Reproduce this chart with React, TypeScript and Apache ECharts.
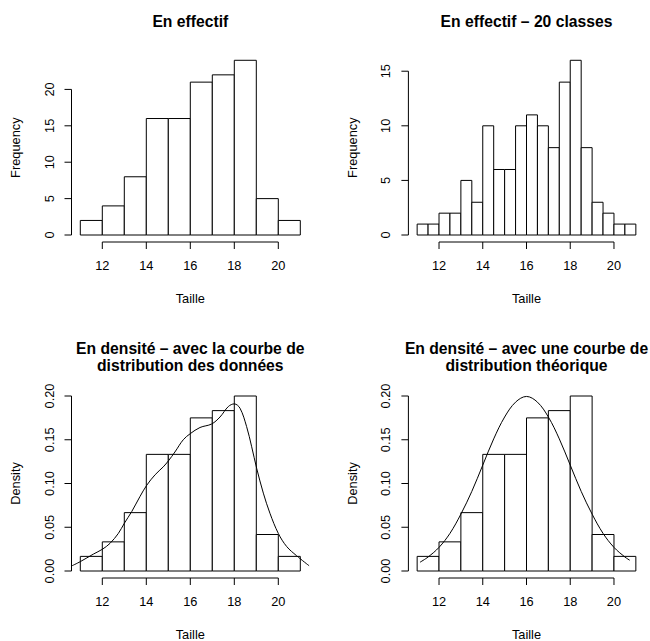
import React, { useEffect, useRef } from "react";
import * as echarts from "echarts";

// ---- Data ----
const edges10 = [11, 12, 13, 14, 15, 16, 17, 18, 19, 20, 21];
const counts10 = [2, 4, 8, 16, 16, 21, 22, 24, 5, 2];
const edges20 = [11, 11.5, 12, 12.5, 13, 13.5, 14, 14.5, 15, 15.5, 16, 16.5, 17, 17.5, 18, 18.5, 19, 19.5, 20, 20.5, 21];
const counts20 = [1, 1, 2, 2, 5, 3, 10, 6, 6, 10, 11, 10, 8, 14, 16, 8, 3, 2, 1, 1];
const density10 = [0.0167, 0.0333, 0.0667, 0.1333, 0.1333, 0.175, 0.1833, 0.2, 0.0417, 0.0167];

const kdeX = [10.6, 11.0, 11.6, 12.0, 12.35, 12.73, 13.0, 13.34, 13.71, 14.02, 14.4, 14.77, 15.0, 15.3, 15.68, 16.0, 16.44, 16.97, 17.35, 17.73, 18.0, 18.26, 18.56, 18.79, 19.02, 19.32, 19.62, 20.0, 20.38, 20.83, 21.4];
const kdeY = [0.0057, 0.0107, 0.0194, 0.0248, 0.0316, 0.043, 0.0545, 0.068, 0.085, 0.098, 0.11, 0.119, 0.1257, 0.136, 0.15, 0.157, 0.164, 0.168, 0.176, 0.188, 0.191, 0.186, 0.165, 0.142, 0.117, 0.089, 0.066, 0.043, 0.028, 0.0175, 0.006];

const normX = [11.13, 11.5, 12, 12.5, 13, 13.5, 14, 14.5, 15, 15.5, 16, 16.5, 17, 17.5, 18, 18.5, 19, 19.5, 20, 20.5, 20.72];
const normY = [0.0100, 0.016, 0.027, 0.043, 0.065, 0.091, 0.121, 0.151, 0.176, 0.193, 0.1995, 0.193, 0.176, 0.151, 0.121, 0.091, 0.065, 0.043, 0.027, 0.016, 0.0123];

const xTicks = [12, 14, 16, 18, 20];
const yTicksFreq1 = [0, 5, 10, 15, 20];
const yTicksFreq2 = [0, 5, 10, 15];
const yTicksDens = [0, 0.05, 0.1, 0.15, 0.2];

const titles = [
  "En effectif",
  "En effectif \u2013 20 classes",
  "En densit\u00e9 \u2013 avec la courbe de\ndistribution des donn\u00e9es",
  "En densit\u00e9 \u2013 avec une courbe de\ndistribution th\u00e9orique",
];

const FONT = "'Liberation Sans', Arial, Helvetica, sans-serif";
const AX_FS = 12.8;
const TITLE_FS = 15.7;
const TICK_LEN = 7;

function bins(edges: number[], vals: number[]) {
  return vals.map((v, i) => [edges[i], edges[i + 1], v]);
}

const lineStyle = { stroke: "#000", lineWidth: 1, fill: null };

export default function App() {
  const ref = useRef<HTMLDivElement>(null);
  useEffect(() => {
    document.body.style.margin = "0";
    if (!ref.current) return;
    const chart = echarts.init(ref.current, null, { renderer: "svg" });

    const XMIN = 10.6, XMAX = 21.4;
    const panels = [
      { left: 71.5, top: 53.3, width: 237.6, height: 188.7, ymin: -0.96, ymax: 24.96, ticks: yTicksFreq1, dec: false, bins: bins(edges10, counts10), ylab: "Frequency", curve: null as null | number[][] },
      { left: 408.4, top: 53.3, width: 236.2, height: 188.7, ymin: -0.64, ymax: 16.64, ticks: yTicksFreq2, dec: false, bins: bins(edges20, counts20), ylab: "Frequency", curve: null },
      { left: 71.5, top: 389, width: 237.6, height: 189, ymin: -0.008, ymax: 0.208, ticks: yTicksDens, dec: true, bins: bins(edges10, density10), ylab: "Density", curve: kdeX.map((x, i) => [x, kdeY[i]]) },
      { left: 408.4, top: 389, width: 236.2, height: 189, ymin: -0.008, ymax: 0.208, ticks: yTicksDens, dec: true, bins: bins(edges10, density10), ylab: "Density", curve: normX.map((x, i) => [x, normY[i]]) },
    ];

    const grid: any[] = [];
    const xAxis: any[] = [];
    const yAxis: any[] = [];
    const series: any[] = [];
    const graphic: any[] = [];

    panels.forEach((p, i) => {
      grid.push({ left: p.left, top: p.top, width: p.width, height: p.height, containLabel: false });
      xAxis.push({
        type: "value", gridIndex: i, min: XMIN, max: XMAX,
        axisLine: { show: false }, splitLine: { show: false }, axisTick: { show: false },
        axisLabel: { show: true, customValues: xTicks, margin: 17, color: "#000", fontSize: AX_FS, fontFamily: FONT },
      });
      yAxis.push({
        type: "value", gridIndex: i, min: p.ymin, max: p.ymax,
        axisLine: { show: false }, splitLine: { show: false }, axisTick: { show: false },
        axisLabel: {
          show: true, customValues: p.ticks, margin: 16, rotate: 90, color: "#000", fontSize: AX_FS, fontFamily: FONT,
          formatter: (v: number) => (p.dec ? v.toFixed(2) : String(v)),
        },
      });
      series.push({
        type: "custom", xAxisIndex: i, yAxisIndex: i, data: p.bins,
        encode: { x: [0, 1], y: 2 },
        renderItem: (params: any, api: any) => {
          const a = api.coord([api.value(0), 0]);
          const b = api.coord([api.value(1), api.value(2)]);
          return {
            type: "rect",
            shape: { x: a[0], y: b[1], width: b[0] - a[0], height: a[1] - b[1] },
            style: { fill: "#fff", stroke: "#000", lineWidth: 1 },
          };
        },
      });
      // R-style x axis: line from first to last tick, ticks pointing down
      series.push({
        type: "custom", xAxisIndex: i, yAxisIndex: i, silent: true, clip: false,
        data: xTicks.map((v) => [v, p.ymin]),
        encode: { x: 0, y: 1 },
        renderItem: (params: any, api: any) => {
          const c = api.coord([api.value(0), api.value(1)]);
          const children: any[] = [
            { type: "line", shape: { x1: c[0], y1: c[1], x2: c[0], y2: c[1] + TICK_LEN }, style: lineStyle },
          ];
          if (params.dataIndex === 0) {
            const e = api.coord([xTicks[xTicks.length - 1], p.ymin]);
            children.push({ type: "line", shape: { x1: c[0], y1: c[1], x2: e[0], y2: e[1] }, style: lineStyle });
          }
          return { type: "group", children };
        },
      });
      // R-style y axis: line from first to last tick, ticks pointing left
      series.push({
        type: "custom", xAxisIndex: i, yAxisIndex: i, silent: true, clip: false,
        data: p.ticks.map((v) => [XMIN, v]),
        encode: { x: 0, y: 1 },
        renderItem: (params: any, api: any) => {
          const c = api.coord([api.value(0), api.value(1)]);
          const children: any[] = [
            { type: "line", shape: { x1: c[0], y1: c[1], x2: c[0] - TICK_LEN, y2: c[1] }, style: lineStyle },
          ];
          if (params.dataIndex === 0) {
            const e = api.coord([XMIN, p.ticks[p.ticks.length - 1]]);
            children.push({ type: "line", shape: { x1: c[0], y1: c[1], x2: e[0], y2: e[1] }, style: lineStyle });
          }
          return { type: "group", children };
        },
      });
      if (p.curve) {
        series.push({
          type: "line", xAxisIndex: i, yAxisIndex: i, clip: true, symbol: "none", smooth: 0.35,
          lineStyle: { color: "#000", width: 1 }, data: p.curve, z: 5,
        });
      }
      const cx = p.left + p.width / 2;
      const isTop = i < 2;
      graphic.push({
        type: "text", x: cx, y: isTop ? 21 : 357,
        style: {
          text: titles[i], fill: "#000", font: `bold ${TITLE_FS}px ${FONT}`,
          textAlign: "center", textVerticalAlign: "middle", align: "center", verticalAlign: "middle", lineHeight: 17,
        },
      });
      graphic.push({
        type: "text", x: cx, y: p.top + p.height + 56.5,
        style: {
          text: "Taille", fill: "#000", font: `${AX_FS}px ${FONT}`,
          textAlign: "center", textVerticalAlign: "middle", align: "center", verticalAlign: "middle",
        },
      });
      graphic.push({
        type: "text", x: p.left - 55.8, y: p.top + p.height / 2, rotation: Math.PI / 2,
        style: {
          text: p.ylab, fill: "#000", font: `${AX_FS}px ${FONT}`,
          textAlign: "center", textVerticalAlign: "middle", align: "center", verticalAlign: "middle",
        },
      });
    });

    chart.setOption({
      animation: false,
      backgroundColor: "#fff",
      grid, xAxis, yAxis, series, graphic,
    });
    return () => chart.dispose();
  }, []);
  return <div ref={ref} style={{ width: 650, height: 641 }} />;
}
